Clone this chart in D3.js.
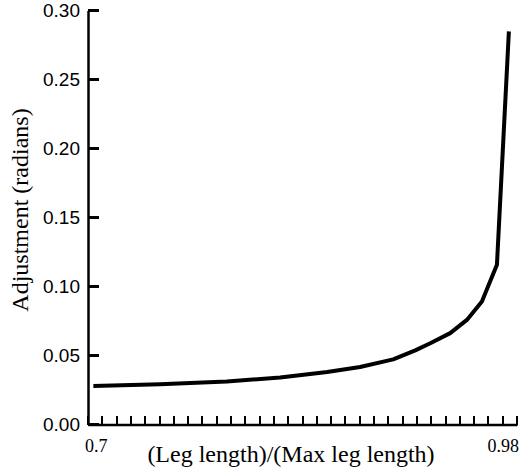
<!DOCTYPE html>
<html>
<head>
<meta charset="utf-8">
<script src="https://cdn.jsdelivr.net/npm/d3@7"></script>
<style>
  body { margin: 0; background: #fff; }
  svg { display: block; }
</style>
</head>
<body>
<svg id="chart" width="529" height="472"></svg>
<script>
// leg ratio (x) and the matching adjustment in radians (y)
const legRatio = [0.7035, 0.747, 0.7906, 0.8254, 0.8561, 0.8776, 0.8992, 0.9136, 0.9234, 0.9364, 0.9473, 0.9571, 0.9669, 0.9747];
const adjustment = [0.0279, 0.0292, 0.0311, 0.0341, 0.0381, 0.0417, 0.0472, 0.0537, 0.0589, 0.0662, 0.0758, 0.0891, 0.1157, 0.2848];
const yTicks = [0, 0.05, 0.1, 0.15, 0.2, 0.25, 0.3];
const xTickLabels = ['0.7', '0.98'];
const xMinorCount = 30;

const svg = d3.select('#chart');
const margin = { top: 10.5, right: 12, bottom: 47.5, left: 88 };
const width = +svg.attr('width') - margin.left - margin.right;
const height = +svg.attr('height') - margin.top - margin.bottom;
const g = svg.append('g').attr('transform', `translate(${margin.left},${margin.top})`);

const x = d3.scaleLinear().domain([0.7, 0.98]).range([0, width]);
const y = d3.scaleLinear().domain([0, 0.3]).range([height, 0]);

// y axis: line + labels from d3, tick marks drawn inward below
const yAxis = g.append('g')
  .call(d3.axisLeft(y).tickValues(yTicks).tickSize(0).tickPadding(8).tickFormat(d3.format('.2f')));
yAxis.select('.domain').attr('stroke', '#000').attr('stroke-width', 2.5);
yAxis.selectAll('text')
  .attr('font-family', '"Liberation Sans", Arial, sans-serif')
  .attr('font-size', 19)
  .attr('fill', '#000');

g.append('g')
  .attr('stroke', '#000')
  .attr('stroke-width', 2.5)
  .attr('shape-rendering', 'crispEdges')
  .selectAll('line')
  .data(yTicks)
  .join('line')
  .attr('x1', 0)
  .attr('x2', 11)
  .attr('y1', d => y(d))
  .attr('y2', d => y(d));

// x axis with minor ticks only, labels at the two ends
const xTickVals = d3.range(xMinorCount + 1).map(i => x.domain()[0] + i * (x.domain()[1] - x.domain()[0]) / xMinorCount);
const xAxis = g.append('g')
  .attr('transform', `translate(0,${height})`)
  .call(d3.axisBottom(x).tickValues([]).tickSize(0).tickFormat(''));
xAxis.select('.domain').attr('stroke', '#000').attr('stroke-width', 2.5);

g.append('g')
  .attr('stroke', '#000')
  .attr('stroke-width', 2)
  .attr('shape-rendering', 'crispEdges')
  .selectAll('line')
  .data(xTickVals)
  .join('line')
  .attr('x1', d => x(d))
  .attr('x2', d => x(d))
  .attr('y1', height)
  .attr('y2', height - 9);

g.append('text')
  .attr('x', x(0.7) - 3)
  .attr('y', height + 27)
  .attr('text-anchor', 'start')
  .attr('font-family', '"Liberation Serif", "Times New Roman", serif')
  .attr('font-size', 18)
  .text(xTickLabels[0]);
g.append('text')
  .attr('x', x(0.98) + 2)
  .attr('y', height + 27)
  .attr('text-anchor', 'end')
  .attr('font-family', '"Liberation Serif", "Times New Roman", serif')
  .attr('font-size', 18)
  .text(xTickLabels[1]);

// axis titles
g.append('text')
  .attr('x', 203)
  .attr('y', height + 37)
  .attr('text-anchor', 'middle')
  .attr('font-family', '"Liberation Serif", "Times New Roman", serif')
  .attr('font-size', 24)
  .text('(Leg length)/(Max leg length)');

g.append('text')
  .attr('transform', 'rotate(-90)')
  .attr('x', -(210 - margin.top))
  .attr('y', 28 - margin.left)
  .attr('text-anchor', 'middle')
  .attr('font-family', '"Liberation Serif", "Times New Roman", serif')
  .attr('font-size', 24)
  .text('Adjustment (radians)');

// the curve
const data = legRatio.map((d, i) => ({ ratio: d, adj: adjustment[i] }));
const line = d3.line()
  .x(d => x(d.ratio))
  .y(d => y(d.adj));

g.append('path')
  .datum(data)
  .attr('fill', 'none')
  .attr('stroke', '#000')
  .attr('stroke-width', 4)
  .attr('stroke-linejoin', 'round')
  .attr('d', line);
</script>
</body>
</html>
